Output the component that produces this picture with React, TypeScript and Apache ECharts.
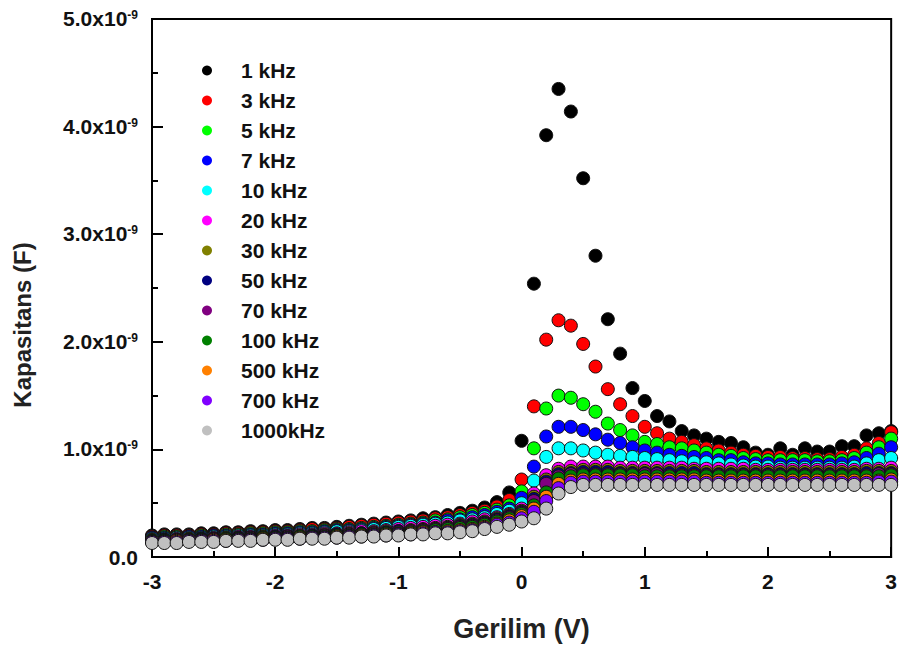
import React, { useEffect, useRef } from "react";
import * as echarts from "echarts";

const VOLTAGE = [
  -3.0, -2.9, -2.8, -2.7, -2.6, -2.5, -2.4, -2.3, -2.2, -2.1,
  -2.0, -1.9, -1.8, -1.7, -1.6, -1.5, -1.4, -1.3, -1.2, -1.1,
  -1.0, -0.9, -0.8, -0.7, -0.6, -0.5, -0.4, -0.3, -0.2, -0.1,
  0.0, 0.1, 0.2, 0.3, 0.4, 0.5, 0.6, 0.7, 0.8, 0.9,
  1.0, 1.1, 1.2, 1.3, 1.4, 1.5, 1.6, 1.7, 1.8, 1.9,
  2.0, 2.1, 2.2, 2.3, 2.4, 2.5, 2.6, 2.7, 2.8, 2.9, 3.0,
];

const FREQUENCIES = [
  "1 kHz", "3 kHz", "5 kHz", "7 kHz", "10 kHz", "20 kHz", "30 kHz",
  "50 kHz", "70 kHz", "100 kHz", "500 kHz", "700 kHz", "1000kHz",
];

const COLORS = [
  "#000000", "#FF0000", "#00FF00", "#0000FF", "#00FFFF", "#FF00FF", "#808000",
  "#000080", "#800080", "#008000", "#FF8000", "#8000FF", "#C0C0C0",
];

// capacitance values in units of 1e-9 F
const C_1kHz = [
  0.20, 0.21, 0.21, 0.21, 0.22, 0.22, 0.23, 0.23, 0.24, 0.24,
  0.25, 0.25, 0.26, 0.27, 0.27, 0.28, 0.29, 0.30, 0.31, 0.32,
  0.33, 0.34, 0.36, 0.37, 0.39, 0.41, 0.43, 0.46, 0.51, 0.60,
  1.08, 2.54, 3.92, 4.35, 4.14, 3.52, 2.80, 2.21, 1.89, 1.57,
  1.45, 1.31, 1.26, 1.17, 1.13, 1.10, 1.07, 1.06, 1.02, 0.97,
  0.95, 1.01, 0.95, 1.01, 0.98, 0.98, 1.03, 1.03, 1.13, 1.15, 1.17,
];
const C_3kHz = [
  0.19, 0.20, 0.20, 0.20, 0.21, 0.21, 0.22, 0.22, 0.23, 0.23,
  0.24, 0.24, 0.25, 0.26, 0.26, 0.27, 0.28, 0.29, 0.30, 0.31,
  0.32, 0.33, 0.34, 0.36, 0.37, 0.39, 0.41, 0.43, 0.47, 0.53,
  0.72, 1.40, 2.02, 2.20, 2.15, 1.98, 1.77, 1.56, 1.42, 1.31,
  1.21, 1.15, 1.10, 1.07, 1.04, 1.01, 0.99, 0.97, 0.95, 0.94,
  0.93, 0.93, 0.92, 0.92, 0.91, 0.91, 0.93, 0.95, 1.01, 1.06, 1.16,
];
const C_5kHz = [
  0.18, 0.19, 0.19, 0.19, 0.20, 0.20, 0.21, 0.21, 0.22, 0.22,
  0.23, 0.23, 0.24, 0.24, 0.25, 0.26, 0.26, 0.27, 0.28, 0.29,
  0.30, 0.31, 0.32, 0.34, 0.35, 0.37, 0.39, 0.41, 0.44, 0.48,
  0.61, 1.01, 1.38, 1.50, 1.48, 1.42, 1.35, 1.24, 1.18, 1.13,
  1.07, 1.05, 1.02, 1.01, 0.99, 0.97, 0.95, 0.94, 0.92, 0.91,
  0.90, 0.90, 0.90, 0.90, 0.89, 0.89, 0.90, 0.92, 0.97, 1.02, 1.10,
];
const C_7kHz = [
  0.18, 0.18, 0.18, 0.19, 0.19, 0.20, 0.20, 0.20, 0.21, 0.21,
  0.22, 0.22, 0.23, 0.23, 0.24, 0.25, 0.25, 0.26, 0.27, 0.28,
  0.29, 0.30, 0.31, 0.32, 0.34, 0.35, 0.37, 0.39, 0.42, 0.45,
  0.55, 0.84, 1.12, 1.21, 1.21, 1.18, 1.14, 1.09, 1.06, 1.02,
  0.99, 0.97, 0.95, 0.94, 0.93, 0.92, 0.90, 0.90, 0.88, 0.87,
  0.87, 0.86, 0.86, 0.86, 0.86, 0.86, 0.87, 0.88, 0.92, 0.96, 1.02,
];
const C_10kHz = [
  0.17, 0.17, 0.18, 0.18, 0.18, 0.19, 0.19, 0.20, 0.20, 0.20,
  0.21, 0.21, 0.22, 0.22, 0.23, 0.24, 0.24, 0.25, 0.26, 0.27,
  0.28, 0.29, 0.30, 0.31, 0.32, 0.34, 0.35, 0.37, 0.40, 0.43,
  0.50, 0.71, 0.93, 1.01, 1.01, 0.99, 0.97, 0.95, 0.94, 0.93,
  0.92, 0.91, 0.90, 0.89, 0.88, 0.88, 0.87, 0.86, 0.85, 0.84,
  0.84, 0.83, 0.83, 0.83, 0.83, 0.83, 0.83, 0.84, 0.87, 0.90, 0.92,
];
const C_20kHz = [
  0.16, 0.16, 0.17, 0.17, 0.17, 0.18, 0.18, 0.19, 0.19, 0.19,
  0.20, 0.20, 0.21, 0.21, 0.22, 0.22, 0.23, 0.24, 0.24, 0.25,
  0.26, 0.27, 0.28, 0.29, 0.30, 0.31, 0.33, 0.35, 0.37, 0.40,
  0.45, 0.59, 0.76, 0.82, 0.84, 0.84, 0.84, 0.84, 0.83, 0.83,
  0.83, 0.83, 0.83, 0.83, 0.82, 0.82, 0.82, 0.82, 0.82, 0.81,
  0.81, 0.81, 0.81, 0.81, 0.81, 0.81, 0.81, 0.81, 0.82, 0.82, 0.83,
];
const C_30kHz = [
  0.16, 0.16, 0.16, 0.17, 0.17, 0.17, 0.18, 0.18, 0.18, 0.19,
  0.19, 0.19, 0.20, 0.20, 0.21, 0.21, 0.22, 0.22, 0.23, 0.24,
  0.24, 0.25, 0.26, 0.27, 0.28, 0.30, 0.31, 0.33, 0.36, 0.39,
  0.43, 0.56, 0.72, 0.79, 0.80, 0.81, 0.81, 0.81, 0.80, 0.80,
  0.80, 0.80, 0.80, 0.80, 0.80, 0.79, 0.79, 0.79, 0.79, 0.79,
  0.79, 0.79, 0.79, 0.79, 0.79, 0.79, 0.79, 0.79, 0.80, 0.80, 0.80,
];
const C_50kHz = [
  0.15, 0.16, 0.16, 0.16, 0.17, 0.17, 0.17, 0.18, 0.18, 0.18,
  0.19, 0.19, 0.19, 0.20, 0.20, 0.21, 0.21, 0.22, 0.22, 0.23,
  0.24, 0.24, 0.25, 0.26, 0.27, 0.29, 0.30, 0.32, 0.35, 0.38,
  0.42, 0.54, 0.70, 0.77, 0.78, 0.79, 0.79, 0.79, 0.78, 0.78,
  0.78, 0.78, 0.78, 0.78, 0.78, 0.77, 0.77, 0.77, 0.77, 0.77,
  0.77, 0.77, 0.77, 0.77, 0.77, 0.77, 0.77, 0.77, 0.78, 0.78, 0.78,
];
const C_70kHz = [
  0.15, 0.15, 0.16, 0.16, 0.16, 0.17, 0.17, 0.17, 0.18, 0.18,
  0.18, 0.19, 0.19, 0.19, 0.20, 0.20, 0.21, 0.21, 0.22, 0.22,
  0.23, 0.24, 0.25, 0.26, 0.27, 0.28, 0.29, 0.31, 0.34, 0.37,
  0.41, 0.52, 0.68, 0.75, 0.77, 0.77, 0.77, 0.77, 0.77, 0.77,
  0.77, 0.77, 0.76, 0.76, 0.76, 0.76, 0.76, 0.76, 0.76, 0.76,
  0.76, 0.76, 0.76, 0.76, 0.76, 0.76, 0.76, 0.76, 0.76, 0.77, 0.77,
];
const C_100kHz = [
  0.15, 0.15, 0.15, 0.16, 0.16, 0.16, 0.17, 0.17, 0.17, 0.18,
  0.18, 0.18, 0.19, 0.19, 0.19, 0.20, 0.20, 0.21, 0.21, 0.22,
  0.22, 0.23, 0.24, 0.25, 0.26, 0.27, 0.28, 0.30, 0.33, 0.36,
  0.40, 0.48, 0.60, 0.73, 0.75, 0.76, 0.76, 0.76, 0.76, 0.76,
  0.75, 0.75, 0.75, 0.75, 0.75, 0.75, 0.75, 0.75, 0.75, 0.75,
  0.75, 0.75, 0.75, 0.75, 0.75, 0.75, 0.75, 0.75, 0.75, 0.75, 0.76,
];
const C_500kHz = [
  0.14, 0.14, 0.15, 0.15, 0.15, 0.16, 0.16, 0.16, 0.16, 0.17,
  0.17, 0.17, 0.18, 0.18, 0.18, 0.19, 0.19, 0.20, 0.20, 0.21,
  0.21, 0.22, 0.23, 0.23, 0.24, 0.25, 0.26, 0.28, 0.31, 0.34,
  0.38, 0.45, 0.56, 0.68, 0.71, 0.72, 0.72, 0.72, 0.72, 0.72,
  0.72, 0.72, 0.72, 0.72, 0.72, 0.71, 0.71, 0.71, 0.71, 0.71,
  0.71, 0.71, 0.71, 0.71, 0.71, 0.71, 0.71, 0.71, 0.71, 0.71, 0.72,
];
const C_700kHz = [
  0.14, 0.14, 0.14, 0.15, 0.15, 0.15, 0.15, 0.16, 0.16, 0.16,
  0.17, 0.17, 0.17, 0.18, 0.18, 0.18, 0.19, 0.19, 0.20, 0.20,
  0.21, 0.21, 0.22, 0.23, 0.23, 0.24, 0.25, 0.27, 0.30, 0.32,
  0.36, 0.42, 0.52, 0.64, 0.69, 0.70, 0.70, 0.70, 0.70, 0.70,
  0.70, 0.70, 0.70, 0.70, 0.70, 0.69, 0.69, 0.69, 0.69, 0.69,
  0.69, 0.69, 0.69, 0.69, 0.69, 0.69, 0.69, 0.69, 0.69, 0.70, 0.70,
];
const C_1000kHz = [
  0.13, 0.13, 0.13, 0.14, 0.14, 0.14, 0.15, 0.15, 0.15, 0.16,
  0.16, 0.16, 0.17, 0.17, 0.17, 0.18, 0.18, 0.19, 0.19, 0.20,
  0.20, 0.21, 0.21, 0.22, 0.22, 0.23, 0.24, 0.26, 0.28, 0.30,
  0.33, 0.36, 0.45, 0.59, 0.65, 0.67, 0.67, 0.67, 0.67, 0.67,
  0.67, 0.67, 0.67, 0.67, 0.67, 0.67, 0.67, 0.67, 0.67, 0.67,
  0.67, 0.67, 0.67, 0.67, 0.67, 0.67, 0.67, 0.67, 0.67, 0.67, 0.67,
];

const SERIES_VALUES = [
  C_1kHz, C_3kHz, C_5kHz, C_7kHz, C_10kHz, C_20kHz, C_30kHz,
  C_50kHz, C_70kHz, C_100kHz, C_500kHz, C_700kHz, C_1000kHz,
];

const FONT = "'Liberation Sans', Arial, Helvetica, sans-serif";

export default function App() {
  const ref = useRef<HTMLDivElement>(null);

  useEffect(() => {
    document.body.style.margin = "0";
    const chart = echarts.init(ref.current!, null, { renderer: "svg" });

    const series = FREQUENCIES.map((name, i) => ({
      name,
      type: "scatter",
      symbol: "circle",
      symbolSize: 13,
      clip: false,
      itemStyle: {
        color: COLORS[i],
        borderColor: "#111",
        borderWidth: 1,
        opacity: 1,
      },
      data: VOLTAGE.map((v, j) => [v, SERIES_VALUES[i][j]]),
    }));

    chart.setOption({
      animation: false,
      backgroundColor: "#fff",
      textStyle: { fontFamily: FONT },
      grid: {
        left: 152,
        right: 8,
        top: 17,
        bottom: 93,
        show: true,
        borderColor: "#000",
        borderWidth: 2,
        backgroundColor: "transparent",
      },
      legend: {
        orient: "vertical",
        left: 202,
        top: 60,
        padding: 0,
        itemWidth: 58,
        itemHeight: 10,
        itemGap: 9,
        icon: "circle",
        itemStyle: { borderWidth: 0 },
        textStyle: {
          fontFamily: FONT,
          fontSize: 21,
          fontWeight: "bold",
          color: "#111",
          lineHeight: 20,
          padding: [0, 0, 0, 0],
        },
        data: FREQUENCIES,
      },
      xAxis: {
        type: "value",
        min: -3,
        max: 3,
        interval: 1,
        name: "Gerilim (V)",
        nameLocation: "middle",
        nameGap: 58,
        nameTextStyle: {
          fontFamily: FONT,
          fontSize: 27,
          fontWeight: "bold",
          color: "#222",
        },
        axisLine: { show: true, onZero: false, lineStyle: { color: "#000", width: 2 } },
        axisTick: { show: true, inside: true, length: 10, lineStyle: { color: "#000", width: 2 } },
        minorTick: { show: true, splitNumber: 2, length: 6, lineStyle: { color: "#000", width: 2 } },
        splitLine: { show: false },
        minorSplitLine: { show: false },
        axisLabel: {
          margin: 14,
          fontFamily: FONT,
          fontSize: 21,
          fontWeight: "bold",
          color: "#111",
        },
      },
      yAxis: {
        type: "value",
        min: 0,
        max: 5,
        interval: 1,
        axisLine: { show: true, onZero: false, lineStyle: { color: "#000", width: 2 } },
        axisTick: { show: true, inside: true, length: 11, lineStyle: { color: "#000", width: 2 } },
        minorTick: { show: true, splitNumber: 2, length: 6, lineStyle: { color: "#000", width: 2 } },
        splitLine: { show: false },
        minorSplitLine: { show: false },
        axisLabel: {
          margin: 14,
          formatter: (v: number) =>
            v === 0 ? "{z|0.0}" : `{m|${v.toFixed(1)}x10}{s|-9}`,
          rich: {
            z: {
              fontFamily: FONT,
              fontSize: 21,
              fontWeight: "bold",
              color: "#111",
              lineHeight: 20,
            },
            m: {
              fontFamily: FONT,
              fontSize: 21,
              fontWeight: "bold",
              color: "#111",
              lineHeight: 20,
              padding: [8, 0, 0, 0],
              verticalAlign: "bottom",
            },
            s: {
              fontFamily: FONT,
              fontSize: 12,
              fontWeight: "bold",
              color: "#111",
              lineHeight: 12,
              verticalAlign: "top",
            },
          },
        },
      },
      graphic: [
        {
          type: "text",
          x: 22,
          y: 325,
          rotation: Math.PI / 2,
          style: {
            text: "Kapasitans (F)",
            fontFamily: FONT,
            fontSize: 24,
            fontWeight: "bold",
            fill: "#222",
            align: "center",
            verticalAlign: "middle",
          },
        },
      ],
      series,
    });

    return () => chart.dispose();
  }, []);

  return <div ref={ref} style={{ width: 900, height: 650 }} />;
}
